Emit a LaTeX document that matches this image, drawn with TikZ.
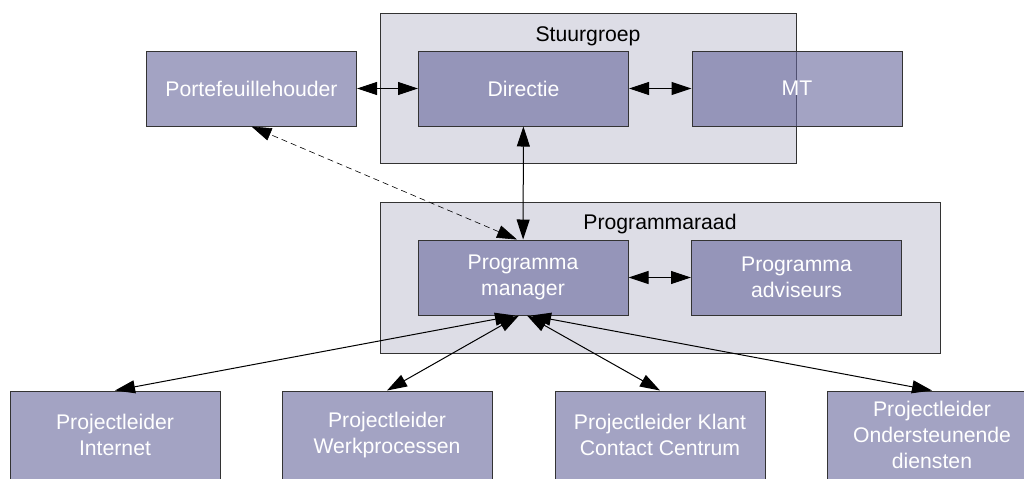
\documentclass[tikz,border=0pt]{standalone}
\usepackage{fontspec}
\setmainfont{Liberation Sans}
\usetikzlibrary{arrows.meta}
\definecolor{rolefill}{RGB}{102,102,155}
\definecolor{groupfill}{RGB}{221,221,230}
\definecolor{frame}{RGB}{51,51,51}

\begin{document}
\begin{tikzpicture}[x=0.5pt,y=-0.5pt,font=\fontsize{10.6}{12.8}\selectfont,
  group/.style={draw=frame,line width=0.5pt,fill=groupfill,inner sep=0pt},
  role/.style={draw=frame,line width=0.5pt,fill=rolefill,fill opacity=0.6,text opacity=1,
    text=white,align=center,inner sep=0pt,minimum width=105pt,minimum height=37.5pt},
  link/.style={{Triangle[length=10pt,width=6.5pt]}-{Triangle[length=10pt,width=6.5pt]},line width=0.5pt}]
\useasboundingbox (0,0) rectangle (1024,478);

% groups
\node[group,minimum width=208pt,minimum height=75pt] (sg) at (588,88) {};
\node (sglabel) at (588,36) {Stuurgroep};
\node[group,minimum width=280pt,minimum height=75.5pt] (pr) at (660,277.5) {};
\node (prlabel) at (660,224) {Programmaraad};

% top row
\node[role] (pf) at (251.5,88.5) {Portefeuillehouder};
\node[role] (dir) at (523.5,88.5) {Directie};
\node[role] (mt) at (797,88.5) {MT};

% programme
\node[role] (pm) at (523,277.5) {Programma\\manager};
\node[role] (pa) at (796.5,277.5) {Programma\\adviseurs};

% project leaders
\node[role,minimum height=44pt] (pl1) at (115,435) {Projectleider\\Internet};
\node[role,minimum height=44pt] (pl2) at (387,435) {Projectleider\\Werkprocessen};
\node[role,minimum height=44pt] (pl3) at (660,435) {Projectleider Klant\\Contact Centrum};
\node[role,minimum height=44pt] (pl4) at (932,435) {Projectleider\\Ondersteunende\\diensten};

\draw[link] (pf) -- (dir);
\draw[link] (dir) -- (mt);
\draw[link] (dir) -- (pm);
\draw[link] (pm) -- (pa);
\draw[link,dashed,dash pattern=on 3pt off 2pt,line width=0.3pt] ([xshift=-3pt]pm.north) -- (pf.south);

\draw[link] ([xshift=-4pt]pm.south) -- (pl1.north);
\draw[link] ([xshift=-2pt]pm.south) -- (pl2.north);
\draw[link] ([xshift=2pt]pm.south) -- (pl3.north);
\draw[link] ([xshift=4pt]pm.south) -- (pl4.north);
\end{tikzpicture}
\end{document}
